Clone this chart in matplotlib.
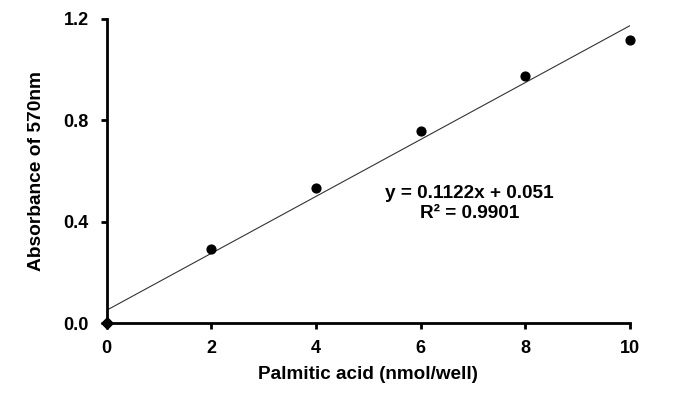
import numpy as np
import matplotlib
matplotlib.use("Agg")
import matplotlib.pyplot as plt

plt.rcParams['font.family'] = ['Liberation Sans', 'DejaVu Sans']

# standard curve readings
palmitic = [0, 2, 4, 6, 8, 10]
absorbance = [0.0, 0.292, 0.533, 0.758, 0.975, 1.117]
slope = 0.1122
intercept = 0.051
r_squared = 0.9901

fig = plt.figure(figsize=(6.8, 3.95), dpi=100)
ax = fig.add_axes([0.157, 0.182, 0.769, 0.770])

# trend line
fit_x = np.array([0, 10])
ax.plot(fit_x, slope * fit_x + intercept, color="#333333", lw=0.8, zorder=2)

# blank point drawn as diamond, the rest as circles
ax.scatter(palmitic[:1], absorbance[:1], marker="D", s=34, color="black", zorder=4, clip_on=False)
ax.scatter(palmitic[1:], absorbance[1:], marker="o", s=40, color="black", zorder=4, clip_on=False)

ax.text(6.94, 0.513, f"y = {slope}x + {intercept}", ha="center", va="center",
        fontsize=13.7, fontweight="bold")
ax.text(6.94, 0.434, f"R² = {r_squared}", ha="center", va="center",
        fontsize=13.7, fontweight="bold")

ax.set_xlim(0, 10)
ax.set_ylim(0, 1.2)
ax.set_xticks([0, 2, 4, 6, 8, 10])
ax.set_yticks([0.0, 0.4, 0.8, 1.2])
ax.set_yticklabels(["0.0", "0.4", "0.8", "1.2"])

for side in ["top", "right"]:
    ax.spines[side].set_visible(False)
for side in ["left", "bottom"]:
    ax.spines[side].set_linewidth(2)

ax.tick_params(direction="out", length=4, width=2, labelsize=13)
ax.tick_params(axis="y", pad=9)
ax.tick_params(axis="x", pad=8)
for lbl in ax.get_xticklabels() + ax.get_yticklabels():
    lbl.set_fontweight("bold")

ax.set_xlabel("Palmitic acid (nmol/well)", fontsize=13.6, fontweight="bold")
ax.set_ylabel("Absorbance of 570nm", fontsize=13.8, fontweight="bold")
ax.xaxis.set_label_coords(0.5, -0.141)
ax.yaxis.set_label_coords(-0.119, 0.5)

fig.savefig("out.png", dpi=100)
